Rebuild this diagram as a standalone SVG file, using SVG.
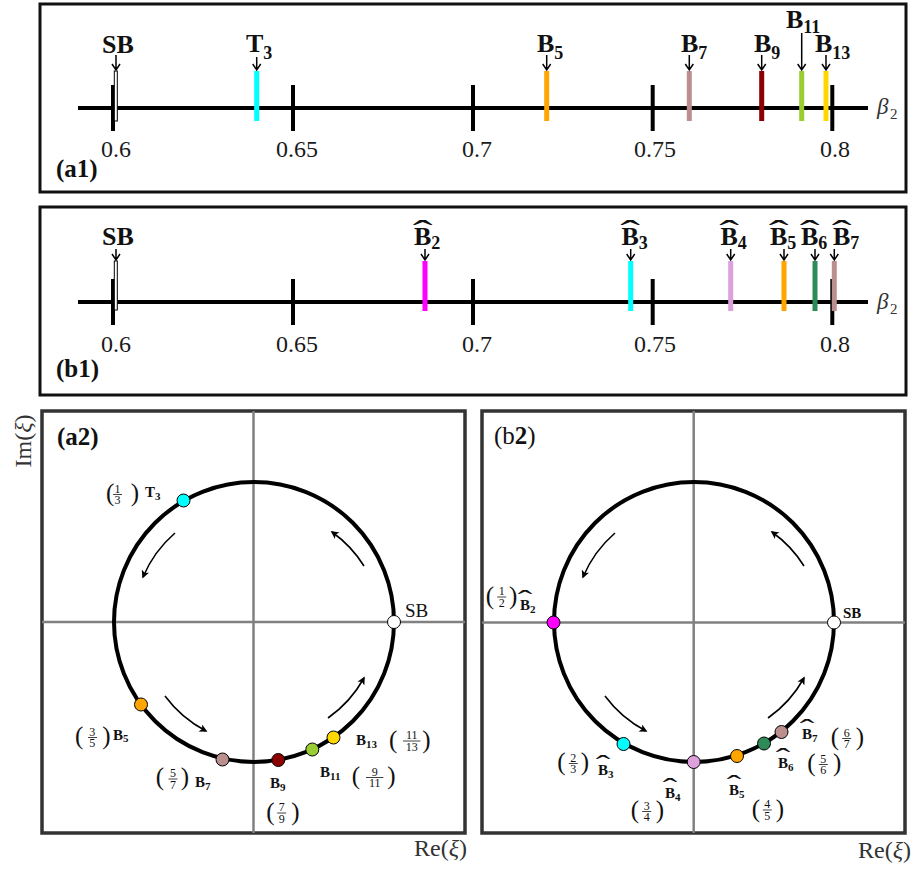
<svg xmlns="http://www.w3.org/2000/svg" width="914" height="872" viewBox="0 0 914 872" font-family="'Liberation Serif', 'Times New Roman', serif">
  <defs>
    <style>
      text { font-family: "Liberation Serif", "Times New Roman", serif; fill: #111; }
      .frame1 { fill: #fff; stroke: #111; stroke-width: 3; }
      .frame2 { fill: #fff; stroke: #333; stroke-width: 3.5; }
      .axis { stroke: #000; stroke-width: 4; }
      .tick { stroke: #000; stroke-width: 4; }
      .grid { stroke: #808080; stroke-width: 2.5; }
      .ring { fill: none; stroke: #000; stroke-width: 4; }
      .dot { stroke: #000; stroke-width: 1; }
      .flow { fill: none; stroke: #000; stroke-width: 1.6; marker-end: url(#head); }
      .pin { fill: none; stroke: #000; stroke-width: 1.5; }
      .sbbar { fill: #fff; stroke: #000; stroke-width: 1; }
      .tlab { font-size: 24px; text-anchor: middle; fill: #1a1a1a; }
      .lbl { font-size: 26px; font-weight: bold; }
      .sub { font-size: 18px; font-weight: bold; }
      .panel { font-size: 25px; font-weight: bold; }
      .panelr { font-size: 25px; }
      .beta { font-size: 23px; font-style: italic; fill: #333; }
      .bsub { font-size: 15px; fill: #333; }
      .ax { font-size: 24px; fill: #333; }
      .axi { font-style: italic; }
      .sl { font-size: 15px; font-weight: bold; }
      .ssub { font-size: 11px; font-weight: bold; }
      .fr { font-size: 12px; text-anchor: middle; }
      .par { font-size: 25px; }
      .bar { stroke: #111; stroke-width: 0.8; }
      .hatL { font-size: 22px; text-anchor: middle; }
      .hatS { font-size: 18px; text-anchor: middle; }
    </style>
    <marker id="head" viewBox="0 0 10 10" refX="8" refY="5" markerWidth="10" markerHeight="8" markerUnits="userSpaceOnUse" orient="auto">
      <path d="M0,0 L10,5 L0,10 L2.5,5 Z" fill="#000"/>
    </marker>
  </defs>

  <rect width="914" height="872" fill="#fff"/>

  <!-- ===== (a1) beta_2 axis with T and B points ===== -->
  <g id="panel-a1">
    <rect class="frame1" x="40" y="4" width="866" height="188"/>
    <line class="axis" x1="78" y1="108" x2="868" y2="108"/>
    <line class="tick" x1="113" y1="85" x2="113" y2="131"/>
    <line class="tick" x1="293" y1="85" x2="293" y2="131"/>
    <line class="tick" x1="473" y1="85" x2="473" y2="131"/>
    <line class="tick" x1="652.7" y1="85" x2="652.7" y2="131"/>
    <line class="tick" x1="832.3" y1="85" x2="832.3" y2="131"/>
    <text class="tlab" x="116" y="157">0.6</text>
    <text class="tlab" x="297" y="157">0.65</text>
    <text class="tlab" x="477" y="157">0.7</text>
    <text class="tlab" x="655" y="157">0.75</text>
    <text class="tlab" x="835" y="157">0.8</text>
    <text class="beta" x="877" y="114">β</text>
    <text class="bsub" x="890" y="119">2</text>
    <text class="panel" x="56" y="177">(a1)</text>
  </g>
  <g id="a1-SB">
    <rect class="sbbar" x="114.3" y="71" width="3" height="50"/>
    <text class="lbl" x="102" y="53">SB</text>
  </g>
  <g id="a1-T3">
    <rect x="254.2" y="71" width="5" height="50" fill="#00ffff"/>
    <text class="lbl" x="246" y="52">T<tspan class="sub" dy="6.5">3</tspan></text>
  </g>
  <g id="a1-B5">
    <rect x="544.2" y="71" width="5" height="50" fill="#ffa500"/>
    <text class="lbl" x="537" y="52">B<tspan class="sub" dy="6.5">5</tspan></text>
  </g>
  <g id="a1-B7">
    <rect x="686.8" y="71" width="5" height="50" fill="#bc8f8f"/>
    <text class="lbl" x="681" y="52">B<tspan class="sub" dy="6.5">7</tspan></text>
  </g>
  <g id="a1-B9">
    <rect x="759.2" y="71" width="5" height="50" fill="#8b0000"/>
    <text class="lbl" x="754" y="52">B<tspan class="sub" dy="6.5">9</tspan></text>
  </g>
  <g id="a1-B11">
    <rect x="799.2" y="71" width="5" height="50" fill="#9acd32"/>
    <text class="lbl" x="786" y="28">B<tspan class="sub" dy="5">11</tspan></text>
  </g>
  <g id="a1-B13">
    <rect x="823.5" y="71" width="5" height="50" fill="#ffd700"/>
    <text class="lbl" x="815" y="52">B<tspan class="sub" dy="6.5">13</tspan></text>
  </g>
  <g id="a1-pins">
    <path class="pin" d="M116,55 V70 M112,64 L116,70 L120,64"/>
    <path class="pin" d="M256.7,57 V70 M252.7,64 L256.7,70 L260.7,64"/>
    <path class="pin" d="M546.7,55 V70 M542.7,64 L546.7,70 L550.7,64"/>
    <path class="pin" d="M689.3,55 V70 M685.3,64 L689.3,70 L693.3,64"/>
    <path class="pin" d="M761.7,55 V70 M757.7,64 L761.7,70 L765.7,64"/>
    <path class="pin" d="M801.7,33 V70 M797.7,64 L801.7,70 L805.7,64"/>
    <path class="pin" d="M826,55 V70 M822,64 L826,70 L830,64"/>
  </g>

  <!-- ===== (b1) beta_2 axis with hatted B points ===== -->
  <g id="panel-b1">
    <rect class="frame1" x="40" y="207" width="866" height="188"/>
    <line class="axis" x1="78" y1="302" x2="868" y2="302"/>
    <line class="tick" x1="113" y1="279" x2="113" y2="325"/>
    <line class="tick" x1="293" y1="279" x2="293" y2="325"/>
    <line class="tick" x1="473" y1="279" x2="473" y2="325"/>
    <line class="tick" x1="652.7" y1="279" x2="652.7" y2="325"/>
    <line class="tick" x1="832.3" y1="279" x2="832.3" y2="325"/>
    <text class="tlab" x="116" y="352">0.6</text>
    <text class="tlab" x="297" y="352">0.65</text>
    <text class="tlab" x="477" y="352">0.7</text>
    <text class="tlab" x="655" y="352">0.75</text>
    <text class="tlab" x="835" y="352">0.8</text>
    <text class="beta" x="877" y="309">β</text>
    <text class="bsub" x="890" y="314">2</text>
    <text class="panel" x="56" y="377">(b1)</text>
  </g>
  <g id="b1-SB">
    <rect class="sbbar" x="114.3" y="261" width="3" height="49"/>
    <text class="lbl" x="102" y="245">SB</text>
  </g>
  <g id="b1-B2">
    <rect x="422.5" y="261" width="5" height="50" fill="#ff00ff"/>
    <text class="lbl" x="414" y="245">B<tspan class="sub" dy="4">2</tspan></text>
    <text class="hatL" transform="translate(422.7,242) scale(2.7,1.4)">ˆ</text>
  </g>
  <g id="b1-B3">
    <rect x="628.2" y="261" width="5" height="50" fill="#00ffff"/>
    <text class="lbl" x="621.5" y="245">B<tspan class="sub" dy="4">3</tspan></text>
    <text class="hatL" transform="translate(630.2,242) scale(2.7,1.4)">ˆ</text>
  </g>
  <g id="b1-B4">
    <rect x="728.2" y="261" width="5" height="50" fill="#dda0dd"/>
    <text class="lbl" x="720.5" y="245">B<tspan class="sub" dy="4">4</tspan></text>
    <text class="hatL" transform="translate(729.2,242) scale(2.7,1.4)">ˆ</text>
  </g>
  <g id="b1-B5">
    <rect x="781.5" y="261" width="5" height="50" fill="#ffa500"/>
    <text class="lbl" x="770" y="245">B<tspan class="sub" dy="4">5</tspan></text>
    <text class="hatL" transform="translate(778.7,242) scale(2.7,1.4)">ˆ</text>
  </g>
  <g id="b1-B6">
    <rect x="812.5" y="261" width="5" height="50" fill="#2e8b57"/>
    <text class="lbl" x="801" y="245">B<tspan class="sub" dy="4">6</tspan></text>
    <text class="hatL" transform="translate(809.7,242) scale(2.7,1.4)">ˆ</text>
  </g>
  <g id="b1-B7">
    <rect x="831.8" y="261" width="5" height="50" fill="#bc8f8f"/>
    <text class="lbl" x="833" y="245">B<tspan class="sub" dy="4">7</tspan></text>
    <text class="hatL" transform="translate(841.7,242) scale(2.7,1.4)">ˆ</text>
  </g>
  <g id="b1-pins">
    <path class="pin" d="M116,249 V260 M112,254 L116,260 L120,254"/>
    <path class="pin" d="M425,249 V260 M421,254 L425,260 L429,254"/>
    <path class="pin" d="M630.7,249 V260 M626.7,254 L630.7,260 L634.7,254"/>
    <path class="pin" d="M730.7,249 V260 M726.7,254 L730.7,260 L734.7,254"/>
    <path class="pin" d="M784,249 V260 M780,254 L784,260 L788,254"/>
    <path class="pin" d="M815,249 V260 M811,254 L815,260 L819,254"/>
    <path class="pin" d="M834.3,249 V260 M830.3,254 L834.3,260 L838.3,254"/>
  </g>

  <!-- ===== (a2) unit circle in the xi plane ===== -->
  <g id="panel-a2">
    <rect class="frame2" x="42" y="411" width="423" height="422"/>
    <line class="grid" x1="42" y1="622" x2="465" y2="622"/>
    <line class="grid" x1="253.5" y1="411" x2="253.5" y2="833"/>
    <circle class="ring" cx="254" cy="622" r="140"/>
    <text class="panel" x="57" y="445">(a2)</text>
    <text class="ax" x="31" y="441" text-anchor="middle" transform="rotate(-90 31 441)">Im(<tspan class="axi">ξ</tspan>)</text>
    <text class="ax" x="467" y="856" text-anchor="end">Re(<tspan class="axi">ξ</tspan>)</text>
  </g>
  <g id="a2-flow">
    <path class="flow" d="M175,533 A120,120 0 0 0 143,577"/>
    <path class="flow" d="M364,566 A120,120 0 0 0 332,532"/>
    <path class="flow" d="M165,696 A120,120 0 0 0 206,731"/>
    <path class="flow" d="M328,718 A120,120 0 0 0 364,678"/>
  </g>
  <g id="a2-SB">
    <circle class="dot" cx="394" cy="622" r="6.5" fill="#fff"/>
    <text x="405" y="617" font-size="19px">SB</text>
  </g>
  <g id="a2-T3">
    <circle class="dot" cx="183.5" cy="500.5" r="6.5" fill="#00ffff"/>
    <text class="par" x="106" y="501">(</text>
    <text class="fr" x="117.5" y="492.5">1</text>
    <line class="bar" x1="113" y1="494.5" x2="122" y2="494.5"/>
    <text class="fr" x="117.5" y="504">3</text>
    <text class="par" x="130.7" y="501">)</text>
    <text class="sl" x="145" y="497">T<tspan class="ssub" dy="2.5">3</tspan></text>
  </g>
  <g id="a2-B5">
    <circle class="dot" cx="141" cy="704.5" r="6.5" fill="#ffa500"/>
    <text class="par" x="75" y="744">(</text>
    <text class="fr" x="92.3" y="735.5">3</text>
    <line class="bar" x1="88" y1="737.5" x2="97" y2="737.5"/>
    <text class="fr" x="92.3" y="747">5</text>
    <text class="par" x="102.3" y="744">)</text>
    <text class="sl" x="113" y="739.5">B<tspan class="ssub" dy="2.5">5</tspan></text>
  </g>
  <g id="a2-B7">
    <circle class="dot" cx="222.5" cy="759.5" r="6.5" fill="#bc8f8f"/>
    <text class="par" x="155.7" y="785">(</text>
    <text class="fr" x="173" y="777">5</text>
    <line class="bar" x1="168.5" y1="779" x2="177.5" y2="779"/>
    <text class="fr" x="173" y="788.5">7</text>
    <text class="par" x="180.7" y="785">)</text>
    <text class="sl" x="195" y="787.3">B<tspan class="ssub" dy="2.5">7</tspan></text>
  </g>
  <g id="a2-B9">
    <circle class="dot" cx="278.3" cy="760" r="6.5" fill="#8b0000"/>
    <text class="sl" x="270" y="788.3">B<tspan class="ssub" dy="2.5">9</tspan></text>
    <text class="par" x="266.3" y="819.5">(</text>
    <text class="fr" x="281.7" y="811">7</text>
    <line class="bar" x1="277.2" y1="813" x2="286.2" y2="813"/>
    <text class="fr" x="281.7" y="822.5">9</text>
    <text class="par" x="291.3" y="819.5">)</text>
  </g>
  <g id="a2-B11">
    <circle class="dot" cx="312.3" cy="749.5" r="6.5" fill="#9acd32"/>
    <text class="sl" x="320" y="777.3">B<tspan class="ssub" dy="2.5">11</tspan></text>
    <text class="par" x="351.7" y="784">(</text>
    <text class="fr" x="374.7" y="775.5">9</text>
    <line class="bar" x1="366" y1="777.5" x2="383.4" y2="777.5"/>
    <text class="fr" x="374.7" y="787">11</text>
    <text class="par" x="387.3" y="784">)</text>
  </g>
  <g id="a2-B13">
    <circle class="dot" cx="333.5" cy="737.5" r="6.5" fill="#ffd700"/>
    <text class="sl" x="356" y="745">B<tspan class="ssub" dy="2.5">13</tspan></text>
    <text class="par" x="389" y="747.5">(</text>
    <text class="fr" x="411.7" y="739">11</text>
    <line class="bar" x1="403" y1="741" x2="420.4" y2="741"/>
    <text class="fr" x="411.7" y="750.5">13</text>
    <text class="par" x="422.3" y="747.5">)</text>
  </g>

  <!-- ===== (b2) unit circle in the xi plane, hatted branch ===== -->
  <g id="panel-b2">
    <rect class="frame2" x="482" y="411" width="423" height="422"/>
    <line class="grid" x1="482" y1="622.5" x2="905" y2="622.5"/>
    <line class="grid" x1="693.7" y1="411" x2="693.7" y2="833"/>
    <circle class="ring" cx="694" cy="622" r="140"/>
    <text class="panelr" x="494" y="444">(b<tspan font-weight="bold">2</tspan>)</text>
    <text class="ax" x="911" y="858" text-anchor="end">Re(<tspan class="axi">ξ</tspan>)</text>
  </g>
  <g id="b2-flow">
    <path class="flow" d="M615,533 A120,120 0 0 0 583,577"/>
    <path class="flow" d="M804,566 A120,120 0 0 0 772,532"/>
    <path class="flow" d="M605,696 A120,120 0 0 0 646,731"/>
    <path class="flow" d="M768,718 A120,120 0 0 0 804,678"/>
  </g>
  <g id="b2-SB">
    <circle class="dot" cx="834" cy="622.5" r="6.5" fill="#fff"/>
    <text class="sl" x="843" y="617.5" font-size="16px">SB</text>
  </g>
  <g id="b2-B2">
    <circle class="dot" cx="553.5" cy="622.5" r="6.5" fill="#ff00ff"/>
    <text class="par" x="485.7" y="603.5">(</text>
    <text class="fr" x="501.7" y="595">1</text>
    <line class="bar" x1="497.2" y1="597" x2="506.2" y2="597"/>
    <text class="fr" x="501.7" y="606.5">2</text>
    <text class="par" x="509" y="603.5">)</text>
    <text class="sl" x="520" y="610">B<tspan class="ssub" dy="2.5">2</tspan></text>
    <text class="hatS" transform="translate(525,608.5) scale(2.4,1.5)">ˆ</text>
  </g>
  <g id="b2-B3">
    <circle class="dot" cx="623.5" cy="744" r="6.5" fill="#00ffff"/>
    <text class="par" x="557.3" y="770">(</text>
    <text class="fr" x="573.3" y="761.5">2</text>
    <line class="bar" x1="568.8" y1="763.5" x2="577.8" y2="763.5"/>
    <text class="fr" x="573.3" y="773">3</text>
    <text class="par" x="580.7" y="770">)</text>
    <text class="sl" x="598" y="775">B<tspan class="ssub" dy="2.5">3</tspan></text>
    <text class="hatS" transform="translate(603,773.5) scale(2.4,1.5)">ˆ</text>
  </g>
  <g id="b2-B4">
    <circle class="dot" cx="693.7" cy="762" r="6.5" fill="#dda0dd"/>
    <text class="sl" x="665" y="798">B<tspan class="ssub" dy="2.5">4</tspan></text>
    <text class="hatS" transform="translate(670,796.5) scale(2.4,1.5)">ˆ</text>
    <text class="par" x="630.7" y="818">(</text>
    <text class="fr" x="646.7" y="809.5">3</text>
    <line class="bar" x1="642.2" y1="811.5" x2="651.2" y2="811.5"/>
    <text class="fr" x="646.7" y="821">4</text>
    <text class="par" x="655.7" y="818">)</text>
  </g>
  <g id="b2-B5">
    <circle class="dot" cx="737" cy="756" r="6.5" fill="#ffa500"/>
    <text class="sl" x="729" y="795">B<tspan class="ssub" dy="2.5">5</tspan></text>
    <text class="hatS" transform="translate(734,793.5) scale(2.4,1.5)">ˆ</text>
    <text class="par" x="751.7" y="816.5">(</text>
    <text class="fr" x="767.3" y="808">4</text>
    <line class="bar" x1="762.8" y1="810" x2="771.8" y2="810"/>
    <text class="fr" x="767.3" y="819.5">5</text>
    <text class="par" x="775.7" y="816.5">)</text>
  </g>
  <g id="b2-B6">
    <circle class="dot" cx="764" cy="743.5" r="6.5" fill="#2e8b57"/>
    <text class="sl" x="778" y="768">B<tspan class="ssub" dy="2.5">6</tspan></text>
    <text class="hatS" transform="translate(783,766.5) scale(2.4,1.5)">ˆ</text>
    <text class="par" x="807.3" y="771">(</text>
    <text class="fr" x="823.3" y="762.5">5</text>
    <line class="bar" x1="818.8" y1="764.5" x2="827.8" y2="764.5"/>
    <text class="fr" x="823.3" y="774">6</text>
    <text class="par" x="833" y="771">)</text>
  </g>
  <g id="b2-B7">
    <circle class="dot" cx="781.5" cy="732" r="6.5" fill="#bc8f8f"/>
    <text class="sl" x="802" y="739">B<tspan class="ssub" dy="2.5">7</tspan></text>
    <text class="hatS" transform="translate(807,737.5) scale(2.4,1.5)">ˆ</text>
    <text class="par" x="830.7" y="745">(</text>
    <text class="fr" x="846.7" y="736.5">6</text>
    <line class="bar" x1="842.2" y1="738.5" x2="851.2" y2="738.5"/>
    <text class="fr" x="846.7" y="748">7</text>
    <text class="par" x="855.7" y="745">)</text>
  </g>
</svg>
